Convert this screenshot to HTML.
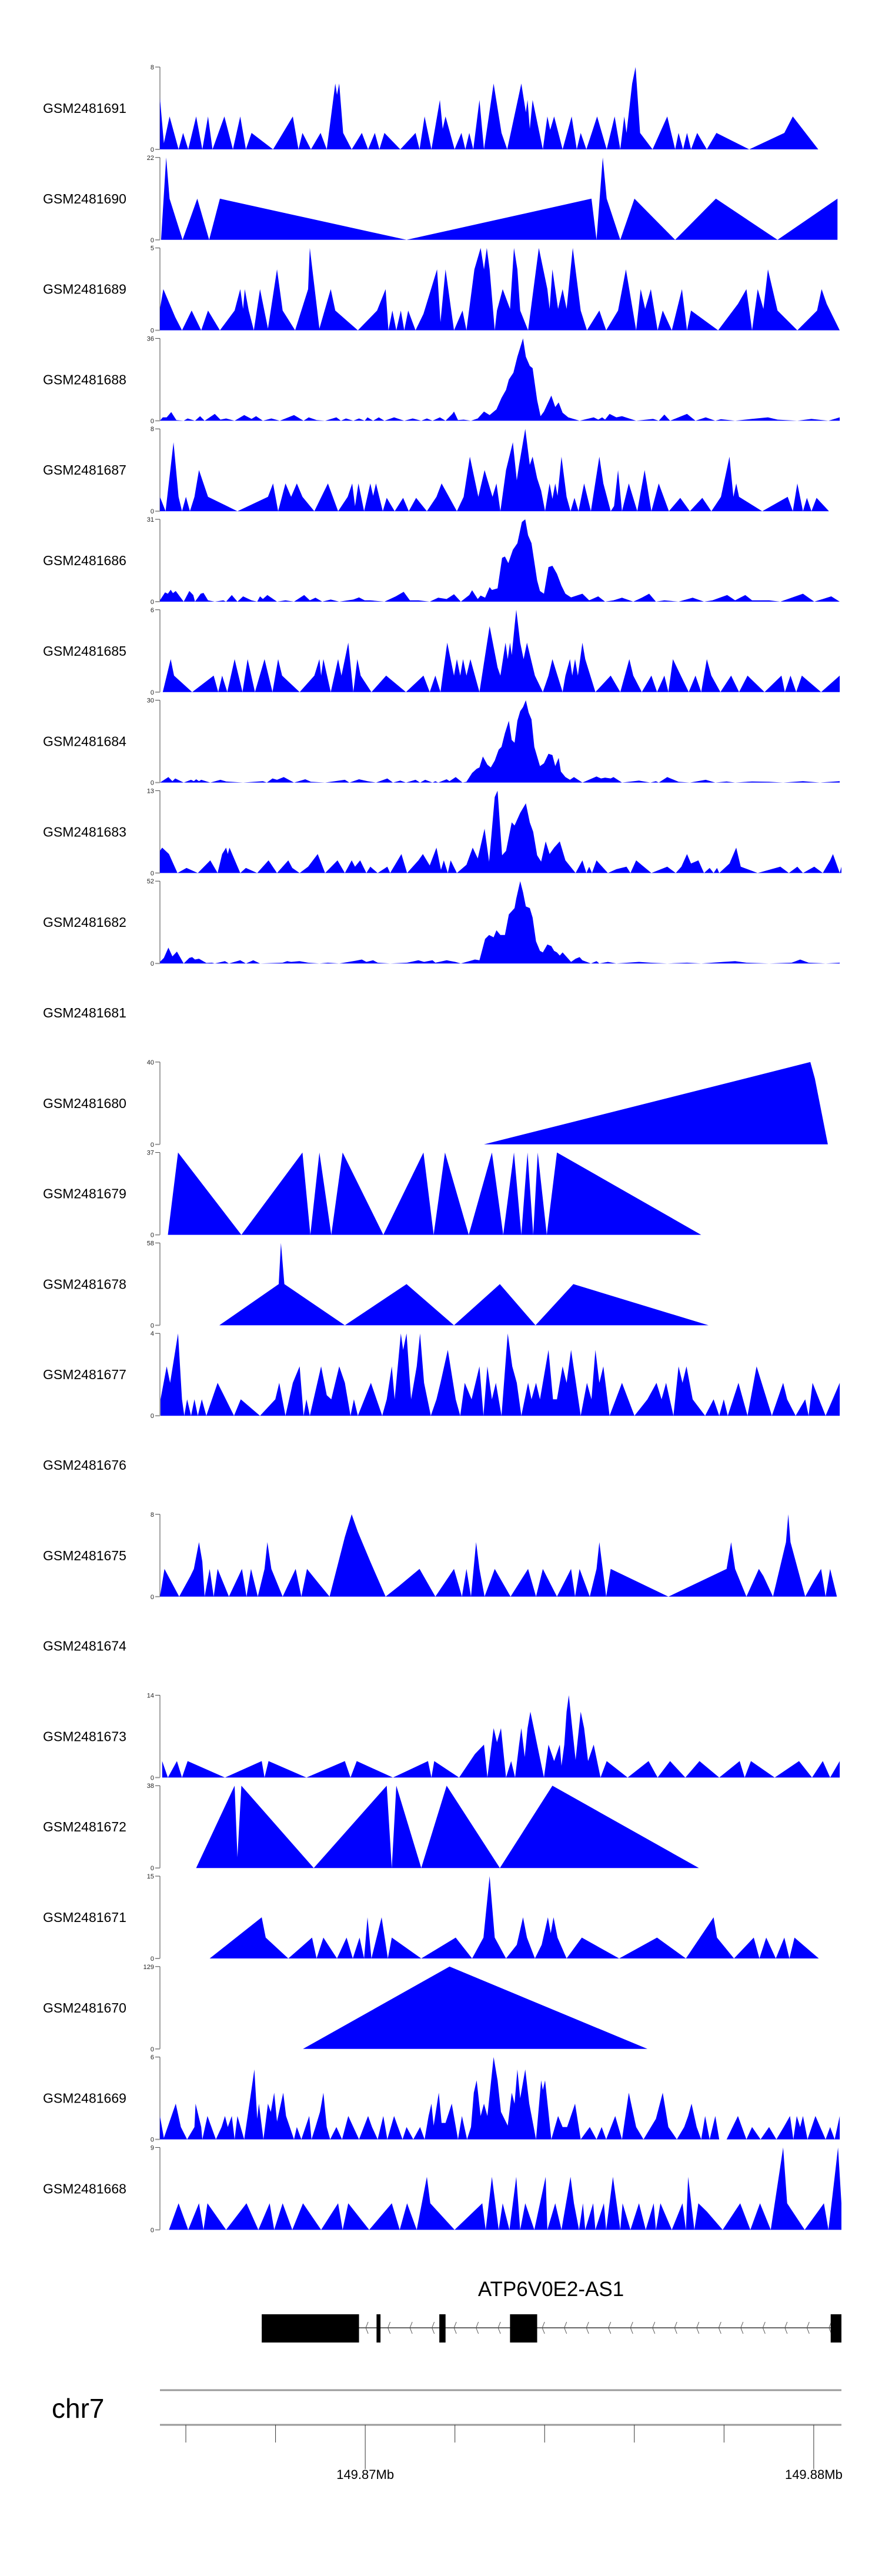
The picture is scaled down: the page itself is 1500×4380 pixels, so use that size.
<!DOCTYPE html>
<html><head><meta charset="utf-8"><style>
html,body{margin:0;padding:0;background:#fff}
svg{display:block;font-family:"Liberation Sans",sans-serif}
</style></head><body>
<svg id="chart" width="1500" height="4380" viewBox="0 0 1500 4380" xmlns="http://www.w3.org/2000/svg"></svg>
<script>
// positions are in genomic bins (BIN_BP bp each); bin 646 = 149.87 Mb
const BIN_BP = 12.61;
const sampleNames = ["GSM2481691","GSM2481690","GSM2481689","GSM2481688","GSM2481687","GSM2481686","GSM2481685","GSM2481684","GSM2481683","GSM2481682","GSM2481681","GSM2481680","GSM2481679","GSM2481678","GSM2481677","GSM2481676","GSM2481675","GSM2481674","GSM2481673","GSM2481672","GSM2481671","GSM2481670","GSM2481669","GSM2481668"];
const yMax = [8,22,5,36,8,31,6,30,13,52,null,40,37,58,4,null,8,null,14,38,15,129,6,9];
const s691=[283,5,290,0.6,300,3.2,316,0,324,1.6,333,0,347,3.2,358,0,368,3.2,376,0,397,3.2,412,0,425,3.2,435,0,445,1.6,483,0,518,3.2,528,0,535,1.6,550,0,567,1.6,578,0,593,6.4,596,5.3,600,6.4,607,1.6,622,0,640,1.6,651,0,663,1.6,671,0,680,1.6,708,0,735,1.6,742,0,751,3.2,763,0,778,4.8,783,2,788,3.2,804,0,816,1.6,823,0,830,1.6,837,0,848,4.8,856,0,873,6.4,887,1.6,897,0,922,6.4,930,3.6,933,4.8,937,2,942,4.8,960,0,968,3.2,973,1.9,980,3.2,995,0,1011,3.2,1020,0,1027,1.6,1037,0,1056,3.2,1073,0,1087,3.2,1097,0,1104,3.2,1108,1.6,1118,6.4,1124,8,1132,1.6,1154,0,1180,3.2,1194,0,1200,1.6,1208,0,1215,1.6,1222,0,1233,1.6,1250,0,1267,1.6,1325,0,1387,1.6,1402,3.2,1447,0];
const s690=[285,0,294,22,300,11,323,0,349,11,370,0,389,11,719,0,1046,11,1055,0,1066,22,1073,11,1097,0,1122,11,1194,0,1266,11,1375,0,1481,11];
const s689=[283,1.3,289,2.5,310,0.8,322,0,339,1.2,356,0,368,1.2,389,0,415,1.2,425,2.5,430,1.3,433,2.5,440,1.2,449,0,460,2.5,474,0.1,490,3.7,500,1.2,522,0,545,2.5,548,5,565,0.1,585,2.5,593,1.2,633,0,667,1.2,682,2.5,687,0,694,1.2,701,0,709,1.2,715,0,722,1.2,735,0,749,1,773,3.7,779,0.5,788,3.7,803,0,818,1.2,825,0,839,3.7,850,5,856,3.7,861,5,866,3.7,875,0,879,1.2,889,2.5,902,1.3,909,5,915,3.7,920,1.2,934,0,953,5,968,2.5,972,1.3,977,3.7,987,1.3,995,2.5,1002,1.3,1013,5,1027,1.2,1038,0,1060,1.2,1072,0,1093,1.2,1107,3.7,1125,0,1133,2.5,1141,1.3,1151,2.5,1163,0,1172,1.2,1188,0,1206,2.5,1215,0,1222,1.2,1270,0,1305,1.6,1320,2.5,1330,0,1340,2.5,1350,1.3,1358,3.7,1375,1.2,1410,0,1445,1.2,1453,2.5,1462,1.6,1485,0];
const s688=[283,0,288,1.5,295,1.5,303,3.8,312,0.3,325,0,332,1,345,0,354,2,362,0,380,3,390,0.5,400,1,415,0,432,2.5,445,0.8,453,2,465,0,480,1,495,0,520,2.5,537,0,546,1.5,560,0.3,575,0,595,1.5,603,0,612,1,625,0,635,1,645,0,650,1.5,660,0,670,1.5,680,0,697,1.5,715,0,730,1,745,0,755,1,765,0,778,1.5,788,0,800,3,803,4,810,0.3,820,0.5,833,0,845,1,856,4,866,2.5,878,5,887,10,895,13.5,900,18,908,21,915,28,925,36,930,28,937,24,942,23,950,9,956,2,962,4,975,11,982,6,988,8,995,3.5,1005,1.5,1025,0,1050,1.5,1058,0.5,1065,1.5,1070,0.5,1078,3,1090,1.5,1100,2,1125,0,1155,0.8,1165,0,1175,2.7,1185,0,1195,1,1215,3,1230,0,1248,1.5,1265,0,1275,0.7,1300,0,1330,0.8,1358,1.5,1375,0.5,1410,0,1435,0.8,1465,0,1485,1.5];
const s687=[283,1.4,293,0,307,6.7,316,1.4,322,0,329,1.4,336,0,344,1.4,352,4,368,1.4,420,0,474,1.4,483,2.7,492,0,505,2.7,515,1.4,525,2.7,535,1.4,556,0,580,2.7,598,0,615,1.4,623,2.7,628,0.5,634,2.7,644,0,655,2.7,660,1.5,665,2.7,677,0,684,1.3,698,0,713,1.3,723,0,736,1.3,755,0,772,1.4,781,2.7,795,1.3,808,0,820,1.4,831,5.3,846,1.4,857,4,871,1.4,878,2.7,885,0,895,4,907,6.7,914,3,918,4.5,929,8,937,4.5,942,5.3,950,3.2,957,2,964,0,972,2.7,977,1.2,982,2.7,986,1.5,993,5.3,1002,1.4,1009,0,1016,1.3,1023,0,1033,2.7,1045,0,1060,5.3,1067,2.7,1080,0,1086,0.5,1093,4,1100,0,1112,2.7,1127,0,1140,4,1152,0,1165,2.7,1183,0,1203,1.3,1220,0,1242,1.3,1258,0,1275,1.4,1290,5.3,1297,1.4,1302,2.7,1307,1.4,1348,0,1393,1.4,1402,0,1410,2.7,1420,0,1427,1.3,1435,0,1444,1.3,1466,0];
const s686=[283,0.5,292,3.5,297,3,302,4.5,306,3.2,311,4,325,0,335,4,342,2.5,345,0,355,3,360,3.3,368,0.5,380,0,395,0.5,400,0,410,2.5,420,0,430,2,445,0.5,455,0,460,2,465,1,473,2.5,490,0,505,0.5,520,0,538,2.5,548,0.5,558,1.5,570,0,585,0.8,600,0,625,0.8,635,1.6,645,0.5,655,0.5,680,0,700,2,714,3.7,725,0.5,740,0.5,760,0,775,1.5,790,1,803,2.8,815,0,830,2.5,835,4.3,845,1,850,2.3,858,1.5,866,5.5,870,4.4,880,5,888,16.5,893,17,899,14.5,907,19.5,915,22,923,30,929,31,934,25,940,22,950,8,955,4,962,3,970,13,977,13.5,985,10.5,993,6,1000,3,1010,1.6,1030,3,1042,0.5,1058,2,1070,0,1085,0.5,1100,1.5,1120,0,1135,1.5,1148,3,1160,0,1175,0.5,1200,0,1225,1.5,1245,0,1260,0.5,1286,2.5,1300,0.5,1318,2.5,1330,0.5,1360,0.5,1380,0,1420,3,1440,0,1470,2,1485,0];
const s685=[288,0,302,2.4,308,1.2,340,0,378,1.2,386,0,393,1.2,402,0,415,2.4,429,0,438,2.4,451,0,468,2.4,482,0,492,2.4,499,1.2,530,0,556,1.2,565,2.4,568,1.2,572,2.4,585,0,598,2.4,604,1.2,616,3.6,625,0,632,2.4,638,1.2,657,0,683,1.2,718,0,749,1.2,760,0,770,1.2,779,0,783,1.2,791,3.6,803,1.2,808,2.4,814,1.2,819,2.4,825,1.2,832,2.4,848,0,866,4.8,880,1.8,885,1.2,894,3.6,898,2.4,902,3.6,905,2.7,910,4.8,913,6,920,3.6,926,2.4,932,3.6,946,1.2,960,0,970,1.2,977,2.4,995,0,1000,1.2,1008,2.4,1012,1.2,1017,2.4,1022,1.2,1030,3.6,1035,2.4,1053,0,1080,1.2,1097,0,1113,2.4,1120,1.2,1135,0,1152,1.2,1162,0,1175,1.2,1182,0,1190,2.4,1218,0,1230,1.2,1240,0,1250,2.4,1258,1.2,1274,0,1293,1.2,1307,0,1322,1.2,1352,0,1382,1.2,1388,0,1398,1.2,1408,0,1418,1.2,1452,0,1485,1.2];
const s684=[283,0,298,2,305,0.5,310,1.5,325,0,338,1,343,0.5,347,1.2,352,0.5,356,1,372,0,390,1,400,0.4,430,0,465,0.5,472,0,482,1.5,490,1,502,2,520,0,540,1.2,550,0.3,575,0,610,1,618,0,635,1.2,650,0.5,665,0,685,1.5,695,0,708,0.7,718,0,735,1,743,0,752,1,765,0,770,0.5,775,0,790,1.2,795,0.5,806,2,818,0,825,0.3,835,3.5,843,5,848,5.5,854,9.5,862,6.5,868,5.5,875,8,882,12,887,13,893,18,900,22.5,905,15.5,910,14.5,915,22.5,920,26,925,27.5,930,30,935,25.5,940,23,945,13,955,6,962,7,970,10.5,977,10,982,6,988,9,992,4,1000,2,1008,1,1015,2,1030,0,1055,2.2,1063,1.5,1070,1.8,1080,1.5,1085,2,1100,0,1130,0.7,1150,0,1160,0.5,1165,0,1180,2,1200,0.3,1220,0,1248,1,1265,0,1285,0.4,1300,0,1330,0.4,1360,0.3,1385,0,1420,0.5,1450,0,1485,0.5];
const s683=[283,3.5,287,4,299,3,314,0,330,0.8,350,0,372,2,385,0,393,3,400,4,403,3,406,4,425,0,435,0.8,455,0,475,2,490,0,510,2,517,0.8,530,0,545,1,562,3,575,0,597,2,610,0,622,2,628,1,637,2,648,0,655,1,668,0,685,1,690,0,710,3,720,0,740,2,748,3,760,1.2,772,4,780,0.5,785,2,792,0,797,2,808,0,825,1.3,836,4,845,2.3,857,7,865,1.8,875,12,880,13,888,2.8,895,3.5,905,8,910,7.5,920,9.5,930,11,937,8,943,6.5,950,2.8,957,1.8,965,5,972,3,980,4,990,5,1000,2,1018,0,1030,2,1037,0,1042,1,1047,0,1055,2,1075,0,1090,0.6,1108,1,1115,0,1125,2,1152,0,1180,1,1195,0,1205,1,1215,3,1222,1.5,1235,2,1245,0,1255,0.8,1262,0,1268,0.8,1272,0,1290,1.5,1302,4,1310,1,1340,0,1380,1,1395,0,1410,1,1420,0,1440,1,1455,0,1468,2,1473,3,1485,0,1488,1];
const s682=[283,1,290,3.5,298,10,305,4.5,313,7.5,325,0,335,3.5,340,4,345,2.5,352,3,365,0.3,375,0.5,380,0,398,1.5,405,0,425,2,435,0,448,2,460,0,500,0.5,508,1.5,515,1,530,1.5,545,0.5,565,0,580,0.5,600,0,630,1.8,640,2.5,648,1,660,2,668,0.5,690,0,720,0.5,740,2,750,1,765,2,770,0.5,790,2,805,1,815,0,840,2.5,848,2,858,15.5,865,18,873,16.5,878,21,885,18,893,18,900,31,905,33,910,35,913,41,920,52,925,45,930,36,937,35,942,29,948,14,955,8,960,7,968,12,975,11,980,8,985,7,990,5,995,7,1000,5,1010,1,1018,3,1025,4,1030,2,1045,0,1055,1.5,1060,0,1075,1,1090,0,1130,1,1150,0.5,1180,0,1215,0.5,1240,0,1280,1,1300,1.5,1320,0.5,1360,0,1400,0.5,1415,2.5,1430,0.5,1460,0,1485,0.5];
const s681=[];
const s680=[856,0,1433,40,1441,32,1464,0];
const s679=[297,0,315,37,427,0,535,37,549,0,565,37,586,0,606,37,678,0,749,37,767,0,787,37,829,0,870,37,890,0,909,37,922,0,933,37,943,0,951,37,967,0,985,37,1240,0];
const s678=[388,0,493,29,497,58,503,29,610,0,719,29,803,0,884,29,947,0,1014,29,1253,0];
const s677=[284,0.8,295,2.4,301,1.6,315,4,322,0.8,326,0,331,0.8,338,0,344,0.8,350,0,357,0.8,365,0,385,1.6,405,0.5,414,0,426,0.8,460,0,487,0.8,494,1.6,505,0,518,1.6,530,2.4,537,0,542,0.8,548,0,568,2.4,578,1,586,0.8,600,2.4,610,1.6,620,0,626,0.8,633,0,656,1.6,676,0,684,0.8,693,2.4,698,0.8,709,4,713,3.2,719,4,727,0.8,737,2.4,743,4,750,1.6,762,0,772,0.8,779,1.6,792,3.2,806,0.8,814,0,822,1.6,834,0.8,848,2.4,855,0,862,2.4,870,0.8,877,1.6,887,0,898,4,906,2.4,914,1.6,922,0,934,1.6,940,0.8,948,1.6,955,0.8,970,3.2,978,0.8,985,0.8,995,2.4,1002,1.6,1010,3.2,1027,0,1038,1.6,1046,0.8,1053,3.2,1060,1.6,1067,2.4,1078,0,1100,1.6,1122,0,1145,0.8,1161,1.6,1170,0.8,1178,1.6,1191,0,1200,2.4,1207,1.6,1214,2.4,1225,0.8,1247,0,1262,0.8,1272,0,1280,0.8,1287,0,1306,1.6,1322,0,1338,2.4,1365,0,1385,1.6,1392,0.8,1407,0,1424,0.8,1430,0,1437,1.6,1460,0,1485,1.6];
const s676=[];
const s675=[283,0,291,2.7,317,0,337,2,343,2.7,352,5.3,358,3.4,362,0,371,2.7,378,0,385,2.7,405,0,428,2.7,436,0,444,2.7,456,0,468,2.7,473,5.3,480,2.7,500,0,523,2.7,533,0,543,2.7,565,1.2,583,0,610,5.8,622,8,633,6.3,655,3.4,682,0,705,1,742,2.7,770,0,803,2.7,817,0,825,2.7,833,0,842,5.3,848,2.7,857,0,875,2.7,903,0,934,2.7,948,0,960,2.7,985,0,1010,2.7,1017,0,1025,2.7,1043,0,1055,2.7,1060,5.3,1072,0,1080,2.7,1182,0,1285,2.7,1293,5.3,1300,2.7,1320,0,1342,2.7,1350,2,1367,0,1390,5.3,1394,8,1398,5.3,1424,0,1440,1.6,1452,2.7,1460,0,1468,2.7,1480,0];
const s674=[];
const s673=[287,2.8,297,0,313,2.8,322,0,332,2.8,398,0,463,2.8,468,0,475,2.8,542,0,610,2.8,620,0,631,2.8,695,0,757,2.8,763,0,768,2.8,812,0,840,4,856,5.6,862,0,873,8.4,879,6,886,8.4,895,0,904,2.8,911,0,918,5.6,922,8.4,928,3.5,933,8.4,938,11.2,944,8.4,950,5.6,962,0,970,5.6,980,2.8,990,5.6,993,2,998,5.6,1002,11.2,1006,14,1012,8.4,1018,3,1027,11.2,1033,8.4,1040,2.8,1050,5.6,1062,0,1073,2.8,1110,0,1147,2.8,1163,0,1185,2.8,1212,0,1237,2.8,1272,0,1308,2.8,1317,0,1328,2.8,1370,0,1413,2.8,1436,0,1455,2.8,1468,0,1485,2.8];
const s672=[347,0,415,38,420,5,427,38,555,0,684,38,693,0,701,38,745,0,790,38,884,0,977,38,1236,0];
const s671=[371,0,463,7.5,470,3.8,510,0,552,3.8,560,0,572,3.8,596,0,613,3.8,624,0,636,3.8,644,0,650,7.5,657,0,675,7.5,686,0,693,3.8,745,0,806,3.8,835,0,855,3.8,866,15,875,3.8,895,0,914,2.5,925,7.5,932,3.8,946,0,958,2.5,969,7.5,974,4.6,979,7.5,986,3.8,1002,0,1029,3.8,1095,0,1162,3.8,1213,0,1262,7.5,1268,3.8,1298,0,1333,3.8,1343,0,1355,3.8,1372,0,1387,3.8,1396,0,1405,3.8,1448,0];
const s670=[536,0,795,129,1145,0];
const s669=[283,1.7,290,0.1,311,2.6,320,0.9,331,0,344,0.9,346,2.6,356,0.9,358,0,367,1.7,382,0,392,0.9,398,1.7,403,0.9,410,1.7,415,0,420,1.7,432,0,444,3.4,450,5.1,455,1.5,458,2.6,466,0,474,2.6,479,2,485,3.4,490,1.3,501,3.4,506,1.7,520,0,525,0.9,533,0,547,1.7,551,0,558,0.9,566,2,572,3.4,578,0.9,584,0,595,0.9,605,0,616,1.7,635,0,651,1.7,658,0.9,668,0,678,1.7,685,0,697,1.7,703,1,712,0,719,0.9,731,0,743,0.9,751,0,758,1.7,763,2.6,767,1,776,3.4,781,1.2,788,1.2,799,2.6,810,0,817,1.7,826,0,833,0.9,838,3.4,843,4.3,850,1.7,856,2.6,862,1.7,873,6,880,4.3,886,2,898,1,905,3.4,910,2.6,915,5.1,920,3,929,5.1,936,2.6,948,0,957,4.3,960,3.6,964,4.3,975,0,987,1.7,995,0.9,1003,0.9,1017,2.6,1027,0,1043,0.9,1055,0,1064,0.9,1072,0,1088,1.7,1100,0,1112,3.4,1125,0.9,1138,0,1160,1.5,1172,3.4,1182,0.9,1197,0,1210,0.9,1217,1.7,1223,2.6,1232,0.9,1240,0,1247,1.7,1255,0,1265,1.7,1272,0,1285,0,1305,1.7,1320,0,1330,0.9,1345,0,1360,0.9,1373,0,1386,0.9,1397,1.7,1403,0,1409,1.7,1415,0.9,1420,1.7,1428,0,1442,1.7,1460,0,1468,0.9,1476,0,1485,1.7];
const s668=[299,0,316,2.9,333,0,352,2.9,360,0,367,2.9,400,0,436,2.9,457,0,477,2.9,485,0,500,2.9,517,0,536,2.9,568,0,598,2.9,606,0,616,2.9,653,0,693,2.9,707,0,720,2.9,737,0,755,5.8,761,2.9,804,0,853,2.9,859,0,870,5.8,876,2.9,882,0,889,2.9,901,0,913,5.8,920,0,929,2.9,945,0,965,5.8,968,0,982,2.9,993,0,1009,5.8,1015,2.9,1024,0,1031,2.9,1035,0,1049,2.9,1053,0,1068,2.9,1072,0,1084,5.8,1097,0,1101,2.9,1115,0,1130,2.9,1142,0,1156,2.9,1160,0,1168,2.9,1188,0,1207,2.9,1213,0,1217,5.8,1228,0,1235,2.9,1250,2,1278,0,1309,2.9,1327,0,1344,2.9,1363,0,1385,9,1392,2.9,1423,0,1457,2.9,1465,0,1476,5.8,1482,9,1488,2.9];
const seriesList=[s691,s690,s689,s688,s687,s686,s685,s684,s683,s682,s681,s680,s679,s678,s677,s676,s675,s674,s673,s672,s671,s670,s669,s668];
const exonStarts=[463,666,777,902,1469];
const exonEnds=[635,673,788,950,1488];
const geneName="ATP6V0E2-AS1";
const axisTicksMb=[149.866,149.868,149.870,149.872,149.874,149.876,149.878,149.880];
const axisLabelsMb=[149.87,149.88];

const NS="http://www.w3.org/2000/svg";
const svg=document.getElementById('chart');
const G0=149870000+(283-646)*BIN_BP, G1=149870000+(1488-646)*BIN_BP;
const X0=272, X1=1431;
function xg(g){return X0+(g-G0)/(G1-G0)*(X1-X0);}
function xb(bin){return xg(149870000+(bin-646)*BIN_BP);}
function mk(tag,attrs){const e=document.createElementNS(NS,tag);for(const k in attrs)e.setAttribute(k,attrs[k]);svg.appendChild(e);return e;}
const TOP=114, PITCH=153.8, H=140;
sampleNames.forEach((name,i)=>{
  const top=TOP+PITCH*i, base=top+H;
  const lab=mk('text',{x:73,y:top+H/2+8,'font-size':23,fill:'#000'});
  lab.textContent=name;
  
  
  const ym=yMax[i]; const d=seriesList[i];
  if(ym===null||d.length===0)return;
  const ax=mk('line',{x1:X0,y1:top,x2:X0,y2:base,stroke:'#444','stroke-width':1});
  
  
  mk('line',{x1:X0-8,y1:top,x2:X0,y2:top,stroke:'#444','stroke-width':1});
  mk('line',{x1:X0-8,y1:base,x2:X0,y2:base,stroke:'#999','stroke-width':2});
  const t1=mk('text',{x:X0-10,y:top+4,'font-size':11,'text-anchor':'end',fill:'#222'});t1.textContent=ym;
  
  
  const t0=mk('text',{x:X0-10,y:base+4,'font-size':11,'text-anchor':'end',fill:'#222'});t0.textContent='0';
  
  
  let pts=[];
  for(let k=0;k<d.length;k+=2){pts.push([xb(d[k]),base-d[k+1]/ym*H]);}
  let p='M'+pts[0][0].toFixed(1)+','+base;
  pts.forEach(q=>{p+='L'+q[0].toFixed(1)+','+q[1].toFixed(1);});
  p+='L'+pts[pts.length-1][0].toFixed(1)+','+base+'Z';
  const area=mk('path',{d:p,fill:'#0000ff',stroke:'none'});
  
  
});
// gene model
const gl=mk('text',{x:937,y:3904,'font-size':35,'text-anchor':'middle',fill:'#000'});
gl.textContent=geneName;


const gx0=xb(exonStarts[0]), gx1=xb(exonEnds[exonEnds.length-1]);
const il=mk('line',{x1:gx0,y1:3958,x2:gx1,y2:3958,stroke:'#333','stroke-width':1.5});


for(let b=exonEnds[0]+12;b<exonStarts[4];b+=39){
  const x=xb(b);
  const ch=mk('path',{d:`M${x+4},3948L${x},3958L${x+4},3968`,fill:'none',stroke:'#555','stroke-width':1});
  
  
}
exonStarts.forEach((s,i)=>{
  const r=mk('rect',{x:xb(s),y:3935,width:xb(exonEnds[i])-xb(s),height:48,fill:'#000'});
  
  
});
// chromosome axis
const chr=mk('text',{x:88,y:4111,'font-size':46,fill:'#000'});chr.textContent='chr7';


const l1=mk('line',{x1:X0,y1:4064,x2:X1,y2:4064,stroke:'#999','stroke-width':3});


const l2=mk('line',{x1:X0,y1:4123,x2:X1,y2:4123,stroke:'#999','stroke-width':3});


axisTicksMb.forEach(mb=>{
  const x=xg(mb*1e6);
  const major=axisLabelsMb.some(v=>Math.abs(v-mb)<1e-6);
  const tk=mk('line',{x1:x,y1:4123,x2:x,y2:major?4198:4153,stroke:'#333','stroke-width':1});
  
  
  if(major){
    const t=mk('text',{x:x,y:4215,'font-size':22,'text-anchor':'middle',fill:'#000'});
    t.textContent=mb.toFixed(2)+'Mb';
    
    
  }
});
</script>
</body></html>
